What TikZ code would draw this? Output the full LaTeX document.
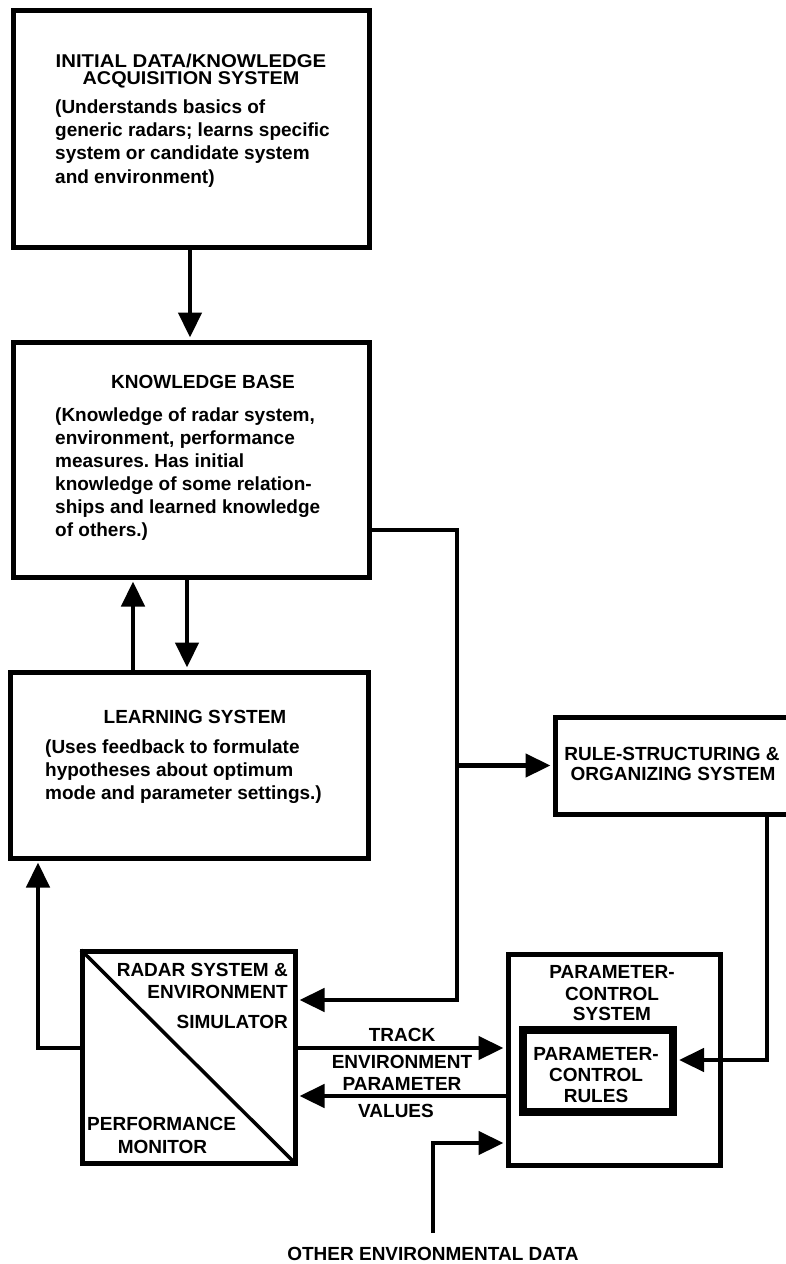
\documentclass[tikz,border=0pt]{standalone}
\usepackage{fontspec}
\usepackage{graphicx}
\setmainfont{Liberation Sans}
\usetikzlibrary{arrows.meta}
\frenchspacing
\begin{document}
\begin{tikzpicture}[x=1pt,y=-1pt,
  box/.style={draw, line width=5pt, inner sep=0pt},
  rulebox/.style={draw, line width=8pt, inner sep=0pt},
  conn/.style={line width=4.5pt, shorten >=2pt, -{Triangle[length=25pt,width=23pt]}},
  lbl/.style={font=\fontsize{19}{21}\selectfont\bfseries, inner sep=0pt},
  body/.style={font=\fontsize{19}{23}\selectfont\bfseries, inner sep=0pt, anchor=base west}]

% page frame
\useasboundingbox (0,0) rectangle (786,1264);
\fill[white] (0,0) rectangle (786,1264);
\clip (0,0) rectangle (786,1264);

% blocks
\node[box, minimum width=356pt, minimum height=237pt] (acq) at (191.5,128.5) {};
\node[box, minimum width=356pt, minimum height=235pt] (kb) at (191,459.5) {};
\node[box, minimum width=358pt, minimum height=186pt] (learn) at (189,765) {};
\node[box, minimum width=250pt, minimum height=97pt] (rule) at (680,765.5) {};
\node[box, minimum width=213pt, minimum height=212pt] (radar) at (188.5,1057) {};
\node[box, minimum width=212pt, minimum height=211pt] (pcs) at (614,1059.5) {};
\node[rulebox, minimum width=150pt, minimum height=82pt] (pcr) at (598,1071) {};
\draw[line width=3.5pt, shorten <=2pt, shorten >=2pt] (radar.north west) -- (radar.south east);

% acquisition system text
\node[lbl, anchor=base, font=\fontsize{18.5}{20}\selectfont\bfseries] (acqt1) at (191,67.5) {\scalebox{1.1}[1]{INITIAL DATA/KNOWLEDGE}};
\node[lbl, anchor=base, font=\fontsize{18.5}{20}\selectfont\bfseries] (acqt2) at (191,84) {\scalebox{1.07}[1]{ACQUISITION SYSTEM}};
\foreach \t [count=\i] in {{(Understands basics of},{generic radars; learns specific},{system or candidate system},{and environment)}}
  \node[body] (acqb\i) at (55,{113+23.4*(\i-1)}) {\t};

% knowledge base text
\node[lbl, anchor=base] (kbt) at (203,388.5) {KNOWLEDGE BASE};
\foreach \t [count=\i] in {{(Knowledge of radar system,},{environment, performance},{measures. Has initial},{knowledge of some relation-},{ships and learned knowledge},{of others.)}}
  \node[body] (kbb\i) at (55,{421.7+22.9*(\i-1)}) {\t};

% learning system text
\node[lbl, anchor=base] (lst) at (195,723.3) {LEARNING SYSTEM};
\foreach \t [count=\i] in {{(Uses feedback to formulate},{hypotheses about optimum},{mode and parameter settings.)}}
  \node[body] (lsb\i) at (45,{753.3+23.3*(\i-1)}) {\t};

% rule-structuring text
\node[lbl, anchor=base] (rst1) at (672,760) {RULE-STRUCTURING \&};
\node[lbl, anchor=base] (rst2) at (673,780.7) {ORGANIZING SYSTEM};

% parameter-control system text
\node[lbl, anchor=base] (pcs1) at (612,978.3) {PARAMETER-};
\node[lbl, anchor=base] (pcs2) at (612,1000) {CONTROL};
\node[lbl, anchor=base] (pcs3) at (612,1020) {SYSTEM};
\node[lbl, anchor=base] (pcr1) at (596,1060) {PARAMETER-};
\node[lbl, anchor=base] (pcr2) at (596,1081) {CONTROL};
\node[lbl, anchor=base] (pcr3) at (596,1102) {RULES};

% simulator / monitor text
\node[lbl, anchor=base east] (sim1) at (288,976.7) {RADAR SYSTEM \&};
\node[lbl, anchor=base east] (sim2) at (288,998.3) {ENVIRONMENT};
\node[lbl, anchor=base east] (sim3) at (288,1028) {SIMULATOR};
\node[lbl, anchor=base west] (mon1) at (87,1130.7) {PERFORMANCE};
\node[lbl, anchor=base] (mon2) at (162.5,1153.3) {MONITOR};

% flow labels
\node[lbl, anchor=base] (trk) at (402,1041.7) {TRACK};
\node[lbl, anchor=base] (epv1) at (402,1068.3) {ENVIRONMENT};
\node[lbl, anchor=base] (epv2) at (402,1090.7) {PARAMETER};
\node[lbl, anchor=base] (epv3) at (396,1117.7) {VALUES};
\node[lbl, anchor=base] (oed) at (433,1260) {OTHER ENVIRONMENTAL DATA};

% routing positions
\coordinate (xtop) at (190,0);
\coordinate (xup) at (133,0);
\coordinate (xdn) at (187,0);
\coordinate (xbus) at (457,0);
\coordinate (xfb) at (38,0);
\coordinate (xrs) at (767,0);
\coordinate (ykb) at (0,530);
\coordinate (ysim) at (0,1000);
\coordinate (ytrk) at (0,1048);
\coordinate (yval) at (0,1096);
\coordinate (yrul) at (0,1060);
\coordinate (yoed) at (0,1143);
\coordinate (oedend) at (433,1233);

% connectors
\draw[conn] (xtop |- acq.south) -- (xtop |- kb.north);
\draw[conn] (xup |- learn.north) -- (xup |- kb.south);
\draw[conn] (xdn |- kb.south) -- (xdn |- learn.north);
\draw[conn] (kb.east |- ykb) -- (xbus |- ykb) -- (xbus |- ysim) -- (radar.east |- ysim);
\draw[conn] (xbus |- rule.west) -- (rule.west);
\draw[conn] (xrs |- rule.south) |- (pcr.east |- yrul);
\draw[conn] (radar.east |- ytrk) -- (pcs.west |- ytrk);
\draw[conn] (pcs.west |- yval) -- (radar.east |- yval);
\draw[conn] (radar.west |- ytrk) -| (xfb |- learn.south);
\draw[conn] (oedend) |- (pcs.west |- yoed);
\end{tikzpicture}
\end{document}
